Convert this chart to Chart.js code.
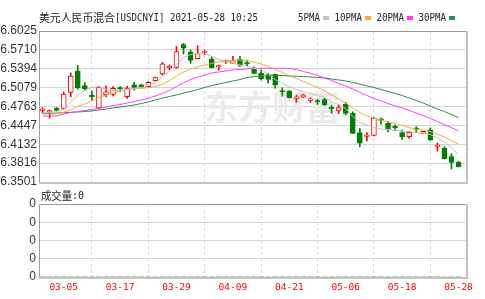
<!DOCTYPE html>
<html>
<head>
<meta charset="utf-8">
<script src="https://cdn.jsdelivr.net/npm/chart.js@4.4.1/dist/chart.umd.min.js"></script>
<style>
  html, body { margin: 0; padding: 0; background: #fff; }
  #wrap { position: relative; width: 485px; height: 299px; overflow: hidden; background: #fff; }
  #wrap canvas { position: absolute; left: 0; }
  #price { top: 0; width: 485px; height: 192px; }
  #vol { top: 186px; width: 485px; height: 113px; }
</style>
</head>
<body>
<div id="wrap">
  <canvas id="price" width="485" height="192"></canvas>
  <canvas id="vol" width="485" height="113"></canvas>
</div>
<script>
// USD/CNY mixed daily K-line, 60 sessions up to 2021-05-28.
// Candles are floating bars (body + wick), MAs are plain lines.

// ---------- data ----------
var dates = [
  "03-02", "03-03", "03-04", "03-05", "03-08", "03-09", "03-10", "03-11", "03-12", "03-15",
  "03-16", "03-17", "03-18", "03-19", "03-22", "03-23", "03-24", "03-25", "03-26", "03-29",
  "03-30", "03-31", "04-01", "04-02", "04-06", "04-07", "04-08", "04-09", "04-12", "04-13",
  "04-14", "04-15", "04-16", "04-19", "04-20", "04-21", "04-22", "04-23", "04-26", "04-27",
  "04-28", "04-29", "04-30", "05-06", "05-07", "05-10", "05-11", "05-12", "05-13", "05-14",
  "05-17", "05-18", "05-19", "05-20", "05-21", "05-24", "05-25", "05-26", "05-27", "05-28"
];

var opens = [
  6.4696, 6.4671, 6.4733, 6.4730, 6.5000, 6.5356, 6.5111, 6.4955, 6.4738, 6.4960,
  6.4964, 6.5072, 6.4927, 6.5127, 6.5127, 6.5094, 6.5194, 6.5306, 6.5410, 6.5418,
  6.5796, 6.5674, 6.5562, 6.5666, 6.5554, 6.5423, 6.5507, 6.5485, 6.5552, 6.5490,
  6.5398, 6.5318, 6.5298, 6.5301, 6.5022, 6.5022, 6.4900, 6.4918, 6.4865, 6.4850,
  6.4880, 6.4738, 6.4696, 6.4805, 6.4649, 6.4328, 6.4262, 6.4278, 6.4542, 6.4482,
  6.4417, 6.4328, 6.4258, 6.4390, 6.4315, 6.4375, 6.4094, 6.4064, 6.3924, 6.3835
];
var highs = [
  6.4743, 6.4705, 6.4746, 6.5005, 6.5323, 6.5448, 6.5164, 6.5022, 6.5106, 6.5106,
  6.5094, 6.5094, 6.5101, 6.5169, 6.5134, 6.5178, 6.5256, 6.5502, 6.5457, 6.5769,
  6.5819, 6.5707, 6.5778, 6.5707, 6.5599, 6.5457, 6.5540, 6.5602, 6.5602, 6.5540,
  6.5428, 6.5373, 6.5318, 6.5306, 6.5076, 6.5031, 6.4955, 6.4972, 6.4910, 6.4883,
  6.4900, 6.4780, 6.4788, 6.4830, 6.4676, 6.4395, 6.4325, 6.4576, 6.4571, 6.4509,
  6.4454, 6.4370, 6.4345, 6.4425, 6.4354, 6.4404, 6.4153, 6.4091, 6.3972, 6.3844
];
var lows = [
  6.4654, 6.4571, 6.4688, 6.4721, 6.4927, 6.5051, 6.5027, 6.4863, 6.4721, 6.4927,
  6.4939, 6.5014, 6.4900, 6.5039, 6.5077, 6.5089, 6.5189, 6.5290, 6.5373, 6.5402,
  6.5641, 6.5485, 6.5557, 6.5632, 6.5407, 6.5373, 6.5482, 6.5477, 6.5432, 6.5440,
  6.5306, 6.5206, 6.5151, 6.5067, 6.4935, 6.4905, 6.4835, 6.4913, 6.4830, 6.4800,
  6.4780, 6.4649, 6.4643, 6.4621, 6.4312, 6.4091, 6.4186, 6.4270, 6.4467, 6.4337,
  6.4357, 6.4211, 6.4231, 6.4332, 6.4312, 6.4195, 6.4019, 6.3886, 6.3718, 6.3752
];
var closes = [
  6.4708, 6.4683, 6.4696, 6.4972, 6.5273, 6.5072, 6.5061, 6.4927, 6.5084, 6.5010,
  6.5067, 6.5056, 6.5072, 6.5084, 6.5084, 6.5169, 6.5248, 6.5478, 6.5423, 6.5679,
  6.5736, 6.5535, 6.5646, 6.5679, 6.5410, 6.5435, 6.5519, 6.5532, 6.5448, 6.5473,
  6.5315, 6.5228, 6.5214, 6.5122, 6.5005, 6.4910, 6.4913, 6.4960, 6.4877, 6.4838,
  6.4788, 6.4725, 6.4743, 6.4646, 6.4315, 6.4148, 6.4275, 6.4571, 6.4532, 6.4382,
  6.4407, 6.4258, 6.4332, 6.4379, 6.4348, 6.4203, 6.4108, 6.3890, 6.3827, 6.3757
];

var ma5 = [
  6.4660, 6.4663, 6.4680, 6.4713, 6.4847, 6.4947, 6.5031, 6.5081, 6.5094, 6.5047,
  6.5031, 6.5031, 6.5047, 6.5067, 6.5081, 6.5111, 6.5156, 6.5256, 6.5356, 6.5465,
  6.5582, 6.5632, 6.5652, 6.5652, 6.5599, 6.5549, 6.5512, 6.5482, 6.5457, 6.5432,
  6.5402, 6.5382, 6.5306, 6.5214, 6.5147, 6.5094, 6.5047, 6.5010, 6.4980, 6.4947,
  6.4913, 6.4838, 6.4796, 6.4730, 6.4596, 6.4496, 6.4454, 6.4412, 6.4387, 6.4379,
  6.4370, 6.4349, 6.4342, 6.4328, 6.4320, 6.4295, 6.4236, 6.4170, 6.4069, 6.3961
];
var ma10 = [
  6.4638, 6.4633, 6.4638, 6.4666, 6.4705, 6.4771, 6.4805, 6.4855, 6.4913, 6.4955,
  6.4989, 6.5022, 6.5047, 6.5064, 6.5067, 6.5077, 6.5097, 6.5131, 6.5198, 6.5273,
  6.5340, 6.5390, 6.5423, 6.5457, 6.5482, 6.5507, 6.5524, 6.5536, 6.5540, 6.5529,
  6.5507, 6.5474, 6.5432, 6.5382, 6.5332, 6.5281, 6.5231, 6.5181, 6.5131, 6.5081,
  6.5031, 6.4955, 6.4888, 6.4821, 6.4738, 6.4663, 6.4604, 6.4571, 6.4537, 6.4504,
  6.4479, 6.4446, 6.4412, 6.4382, 6.4362, 6.4345, 6.4303, 6.4253, 6.4195, 6.4128
];
var ma20 = [
  6.4604, 6.4604, 6.4604, 6.4638, 6.4663, 6.4680, 6.4696, 6.4713, 6.4730, 6.4755,
  6.4780, 6.4796, 6.4821, 6.4847, 6.4872, 6.4900, 6.4939, 6.4980, 6.5031, 6.5097,
  6.5156, 6.5214, 6.5256, 6.5290, 6.5323, 6.5340, 6.5356, 6.5373, 6.5382, 6.5393,
  6.5402, 6.5402, 6.5402, 6.5402, 6.5402, 6.5398, 6.5382, 6.5348, 6.5318, 6.5281,
  6.5240, 6.5198, 6.5147, 6.5106, 6.5056, 6.4997, 6.4947, 6.4897, 6.4855, 6.4813,
  6.4771, 6.4738, 6.4696, 6.4655, 6.4613, 6.4562, 6.4512, 6.4462, 6.4412, 6.4353
];
var ma30 = [
  6.4649, 6.4649, 6.4654, 6.4659, 6.4666, 6.4671, 6.4680, 6.4688, 6.4705, 6.4721,
  6.4738, 6.4755, 6.4771, 6.4788, 6.4813, 6.4838, 6.4872, 6.4905, 6.4930, 6.4955,
  6.4989, 6.5014, 6.5047, 6.5081, 6.5114, 6.5139, 6.5164, 6.5189, 6.5214, 6.5248,
  6.5261, 6.5273, 6.5281, 6.5285, 6.5281, 6.5273, 6.5268, 6.5265, 6.5256, 6.5248,
  6.5240, 6.5223, 6.5206, 6.5189, 6.5164, 6.5139, 6.5106, 6.5081, 6.5047, 6.5014,
  6.4980, 6.4947, 6.4905, 6.4863, 6.4821, 6.4771, 6.4721, 6.4679, 6.4629, 6.4579
];

var volumes = [
  0, 0, 0, 0, 0, 0, 0, 0, 0, 0,  0, 0, 0, 0, 0, 0, 0, 0, 0, 0,
  0, 0, 0, 0, 0, 0, 0, 0, 0, 0,  0, 0, 0, 0, 0, 0, 0, 0, 0, 0,
  0, 0, 0, 0, 0, 0, 0, 0, 0, 0,  0, 0, 0, 0, 0, 0, 0, 0, 0, 0
];

var yTickLabels = ["6.3501", "6.3816", "6.4132", "6.4447", "6.4763", "6.5079", "6.5394", "6.5710", "6.6025"];
var xTickLabels = ["03-05", "03-17", "03-29", "04-09", "04-21", "05-06", "05-18", "05-28"];
var volTickLabels = ["0", "0", "0", "0", "0"];

var titleName = "美元人民币混合";
var titleCode = "[USDCNYI] 2021-05-28 10:25";
var volTitle = "成交量";
var volValue = ":0";
var maLabels = ["5PMA", "10PMA", "20PMA", "30PMA"];

// ---------- styles ----------
var UP = "#ff0000";
var DOWN = "#008000";
var maColors = ["#c2c2c2", "#f7ab3c", "#ff3cff", "#2d8a57"];
var GRID = "#d6d6d6";
var TEXT = "#222222";

var isUp = closes.map(function (c, i) { return c >= opens[i]; });

function pts(arr) {
  return arr.map(function (v, i) { return { x: i, y: v }; });
}

function dateTicks(axis) {
  axis.ticks = xTickLabels.map(function (l) { return { value: dates.indexOf(l) }; });
}

// grey box round the plot area: thin dark left/top, 2px light right/bottom
var framePlugin = {
  id: "frame",
  afterDraw: function (chart) {
    var a = chart.chartArea, ctx = chart.ctx;
    ctx.save();
    ctx.strokeStyle = "#c2c2c2";
    ctx.lineWidth = 2;
    ctx.beginPath();
    ctx.moveTo(a.right, a.top);
    ctx.lineTo(a.right, a.bottom + 1);
    ctx.lineTo(a.left, a.bottom + 1);
    ctx.stroke();
    ctx.strokeStyle = "#9c9c9c";
    ctx.lineWidth = 1;
    ctx.beginPath();
    ctx.moveTo(a.left + 0.5, a.bottom);
    ctx.lineTo(a.left + 0.5, a.top + 0.5);
    ctx.lineTo(a.right - 1, a.top + 0.5);
    ctx.stroke();
    ctx.restore();
  }
};

var watermarkPlugin = {
  id: "watermark",
  beforeDatasetsDraw: function (chart) {
    var ctx = chart.ctx;
    ctx.save();
    ctx.fillStyle = "#ebebeb";
    ctx.font = 'bold 34px "Noto Sans CJK SC"';
    ctx.textBaseline = "middle";
    ctx.fillText("东方财富", 204, 107, 142);
    ctx.restore();
  }
};

var headerPlugin = {
  id: "header",
  afterDraw: function (chart) {
    var ctx = chart.ctx;
    ctx.save();
    ctx.textBaseline = "middle";
    ctx.fillStyle = TEXT;
    ctx.font = '11px "Noto Sans CJK SC"';
    ctx.fillText(titleName, 39, 18, 76);
    ctx.font = '11px "DejaVu Sans Mono"';
    ctx.fillText(titleCode, 115, 18, 143);
    var x = 298;
    maLabels.forEach(function (lab, k) {
      var w = lab.length * 5.5;
      ctx.fillStyle = TEXT;
      ctx.fillText(lab, x, 18, w);
      x += w + 3;
      ctx.fillStyle = maColors[k];
      ctx.fillRect(x, 16, 6, 4);
      x += 11.5;
    });
    ctx.restore();
  }
};

var volHeaderPlugin = {
  id: "volHeader",
  afterDraw: function (chart) {
    var ctx = chart.ctx;
    ctx.save();
    ctx.textBaseline = "middle";
    ctx.fillStyle = TEXT;
    ctx.font = '11px "Noto Sans CJK SC"';
    ctx.fillText(volTitle, 41, 10, 31);
    ctx.font = '11px "DejaVu Sans Mono"';
    ctx.fillText(volValue, 72, 10, 12);
    ctx.restore();
  }
};

var tickFont = { family: '"Liberation Sans", Arial, sans-serif', size: 12 };

function maSet(label, arr, color) {
  return {
    type: "line", label: label, data: pts(arr),
    borderColor: color, borderWidth: 1, pointRadius: 0, tension: 0, order: 0
  };
}

// ---------- price chart ----------
new Chart(document.getElementById("price"), {
  type: "bar",
  data: {
    datasets: [
      maSet("5PMA", ma5, maColors[0]),
      maSet("10PMA", ma10, maColors[1]),
      maSet("20PMA", ma20, maColors[2]),
      maSet("30PMA", ma30, maColors[3]),
      {
        label: "body",
        data: opens.map(function (o, i) { return { x: i, y: [o, closes[i]] }; }),
        backgroundColor: isUp.map(function (u) { return u ? "#ffffff" : DOWN; }),
        borderColor: isUp.map(function (u) { return u ? UP : DOWN; }),
        borderWidth: 1, borderSkipped: false, barThickness: 5,
        minBarLength: 1.5, grouped: false, order: 1
      },
      {
        label: "wick",
        data: lows.map(function (l, i) { return { x: i, y: [l, highs[i]] }; }),
        backgroundColor: isUp.map(function (u) { return u ? UP : DOWN; }),
        borderWidth: 0, barThickness: 1, grouped: false, order: 2
      }
    ]
  },
  options: {
    responsive: false,
    animation: false,
    events: [],
    layout: { padding: { top: 31, right: 18, bottom: 10, left: 0 } },
    plugins: { legend: { display: false }, tooltip: { enabled: false } },
    scales: {
      x: {
        type: "linear", min: -0.5, max: 60.2, offset: false,
        afterBuildTicks: dateTicks,
        afterFit: function (axis) { axis.height = 0; },
        ticks: { display: false },
        grid: { color: GRID, drawTicks: false },
        border: { display: false, dash: [3, 3] }
      },
      y: {
        min: 6.3501, max: 6.6025,
        afterBuildTicks: function (axis) {
          axis.ticks = yTickLabels.map(function (s) { return { value: parseFloat(s) }; });
        },
        afterFit: function (axis) { axis.width = 39; },
        ticks: {
          callback: function (v) { return v.toFixed(4); },
          color: "#333", font: tickFont, padding: 2
        },
        grid: { color: GRID, drawTicks: false },
        border: { display: false }
      }
    }
  },
  plugins: [watermarkPlugin, framePlugin, headerPlugin]
});

// ---------- volume chart ----------
new Chart(document.getElementById("vol"), {
  type: "bar",
  data: {
    datasets: [{
      label: "volume",
      data: pts(volumes),
      backgroundColor: DOWN, barThickness: 5
    }]
  },
  options: {
    responsive: false,
    animation: false,
    events: [],
    layout: { padding: { top: 18, right: 18, bottom: 0, left: 0 } },
    plugins: { legend: { display: false }, tooltip: { enabled: false } },
    scales: {
      x: {
        type: "linear", min: -0.5, max: 60.2, offset: false,
        afterBuildTicks: dateTicks,
        afterFit: function (axis) { axis.height = 22; },
        ticks: {
          callback: function (v) { return dates[v]; },
          autoSkip: false, maxRotation: 0,
          color: "#ff0000",
          font: { family: '"DejaVu Sans Mono", monospace', size: 9.5 },
          padding: 5
        },
        grid: { color: GRID, drawTicks: false },
        border: { display: false, dash: [3, 3] }
      },
      y: {
        min: 0, max: 4,
        afterBuildTicks: function (axis) {
          axis.ticks = volTickLabels.map(function (s, i) { return { value: i }; });
        },
        afterFit: function (axis) { axis.width = 39; },
        ticks: {
          callback: function (v) { return volTickLabels[v]; },
          color: "#333", font: tickFont, padding: 3
        },
        grid: { color: GRID, drawTicks: false },
        border: { display: false }
      }
    }
  },
  plugins: [framePlugin, volHeaderPlugin]
});
</script>
</body>
</html>
